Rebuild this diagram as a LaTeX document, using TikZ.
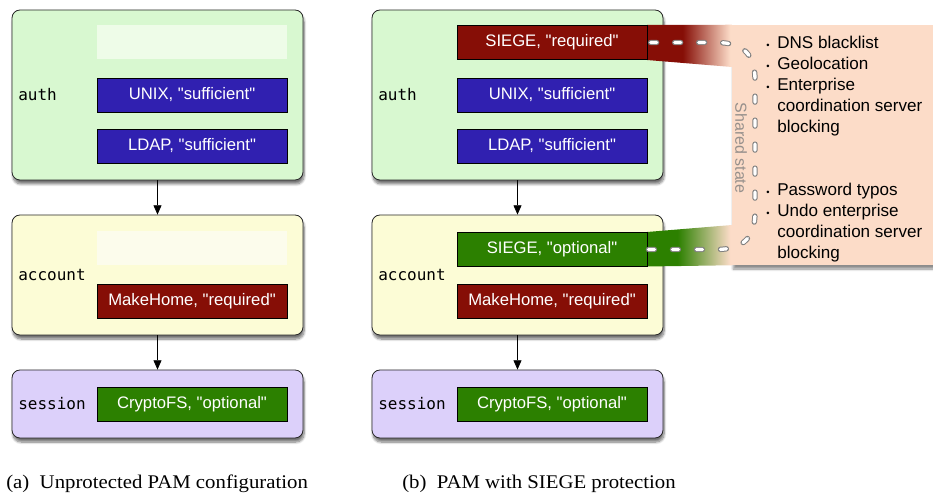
\documentclass[tikz,border=0pt]{standalone}
\usepackage{fontspec}
\setmainfont{Liberation Serif}
\setsansfont{Liberation Sans}[Ligatures=TeXOff]
\setmonofont{DejaVu Sans Mono}
\usepackage{xcolor}
\usetikzlibrary{arrows.meta,shadows.blur}

\definecolor{authbg}{RGB}{216,248,208}
\definecolor{authgap}{RGB}{238,252,232}
\definecolor{acctbg}{RGB}{252,252,214}
\definecolor{acctgap}{RGB}{252,252,236}
\definecolor{sessbg}{RGB}{220,208,250}
\definecolor{modblue}{RGB}{48,32,176}
\definecolor{modred}{RGB}{134,14,6}
\definecolor{modgreen}{RGB}{44,128,0}
\definecolor{peach}{RGB}{252,220,200}
\definecolor{edgegray}{RGB}{40,40,40}
\definecolor{stategray}{RGB}{150,144,140}

\pgfdeclarehorizontalshading{redfade}{100bp}{color(0bp)=(modred); color(46bp)=(modred); color(74bp)=(peach); color(100bp)=(peach)}
\pgfdeclarehorizontalshading{greenfade}{100bp}{color(0bp)=(modgreen); color(43bp)=(modgreen); color(74bp)=(peach); color(100bp)=(peach)}

\newcommand{\bul}{\makebox[8.25pt][l]{\fontsize{7}{7}\selectfont\textbullet}}
\newcommand{\bulskip}{\hspace*{8.25pt}}

\tikzset{
  stage/.style={draw=edgegray, line width=0.6pt, rounded corners=6pt, minimum width=218.25pt,
    blur shadow={shadow xshift=0.8pt, shadow yshift=-3pt, shadow blur steps=8, shadow opacity=55}},
  module/.style={draw=black, line width=0.5pt, minimum width=142.5pt, minimum height=25.5pt,
    inner sep=0pt, text=white, font=\sffamily\fontsize{12.5}{12.5}\selectfont},
  blank/.style={minimum width=142.5pt, minimum height=25.5pt, inner sep=0pt},
  stagelabel/.style={anchor=west, inner sep=0pt, font=\ttfamily\fontsize{12}{12}\selectfont},
  flow/.style={-{Triangle[length=7pt,width=6pt]}, line width=0.6pt},
  sharedbox/.style={fill=peach, minimum width=152pt, minimum height=180pt, inner sep=0pt,
    blur shadow={shadow xshift=0.8pt, shadow yshift=-3pt, shadow blur steps=8, shadow opacity=45}},
  sharedout/.style={draw=gray, line width=4pt, line cap=round, dash pattern=on 4.5pt off 13.5pt, dash phase=-2.5pt},
  sharedin/.style={draw=white, line width=2.5pt, line cap=round, dash pattern=on 4.5pt off 13.5pt, dash phase=-2.5pt},
  listtext/.style={anchor=north west, inner sep=0pt, align=left, font=\sffamily\fontsize{12.8}{15.75}\selectfont},
  caption/.style={anchor=base west, inner sep=0pt, xscale=1.075, font=\fontsize{14.5}{14.5}\selectfont}
}

\begin{document}
\begin{tikzpicture}[x=0.75pt,y=-0.75pt]
\useasboundingbox (0,0) rectangle (933,495);

% (a) unprotected
\node[stage, fill=authbg, minimum height=127.5pt] (authA) at (157.5,95) {};
\node[stage, fill=acctbg, minimum height=90pt] (acctA) at (157.5,275) {};
\node[stage, fill=sessbg, minimum height=51pt] (sessA) at (157.5,404) {};
\node[stagelabel] (authAlbl) at (18,95) {auth};
\node[stagelabel] (acctAlbl) at (18,275) {account};
\node[stagelabel] (sessAlbl) at (18,404) {session};
\node[blank, fill=authgap] (gapA1) at (192,42.5) {};
\node[module, fill=modblue] (unixA) at (192,95) {UNIX, "sufficient"};
\node[module, fill=modblue] (ldapA) at (192,146) {LDAP, "sufficient"};
\node[blank, fill=acctgap] (gapA2) at (192,248.5) {};
\node[module, fill=modred] (mkhomeA) at (192,301) {MakeHome, "required"};
\node[module, fill=modgreen] (cryptA) at (192,404) {CryptoFS, "optional"};
\draw[flow] (authA) -- (acctA);
\draw[flow] (acctA) -- (sessA);

% (b) with SIEGE
\node[stage, fill=authbg, minimum height=127.5pt] (authB) at (517.5,95) {};
\node[stage, fill=acctbg, minimum height=90pt] (acctB) at (517.5,275) {};
\node[stage, fill=sessbg, minimum height=51pt] (sessB) at (517.5,404) {};
\node[sharedbox] (shared) at (833.5,145) {};
\node[stagelabel] (authBlbl) at (378,95) {auth};
\node[stagelabel] (acctBlbl) at (378,275) {account};
\node[stagelabel] (sessBlbl) at (378,404) {session};
\coordinate (siegeReqNE) at (647,25);
\coordinate (siegeOptSE) at (647,266.5);
\shade[shading=redfade] (siegeReqNE) -- (shared.north west) -- (shared.west |- 0,67) -- (647,60) -- cycle;
\shade[shading=greenfade] (647,232) -- (shared.west |- 0,225) -- (shared.south west) -- (siegeOptSE) -- cycle;
\node[module, fill=modred] (siegeReq) at (552,42.5) {SIEGE, "required"};
\node[module, fill=modblue] (unixB) at (552,95) {UNIX, "sufficient"};
\node[module, fill=modblue] (ldapB) at (552,146) {LDAP, "sufficient"};
\node[module, fill=modgreen] (siegeOpt) at (552,249.5) {SIEGE, "optional"};
\node[module, fill=modred] (mkhomeB) at (552,301) {MakeHome, "required"};
\node[module, fill=modgreen] (cryptB) at (552,404) {CryptoFS, "optional"};
\draw[flow] (authB) -- (acctB);
\draw[flow] (acctB) -- (sessB);

\draw[sharedout] (siegeReq.east) -- (716,42.5) .. controls (744,42.5) and (755,55) .. (755,80)
  -- (755,212) .. controls (755,237) and (744,249.5) .. (716,249.5) -- (siegeOpt.east);
\draw[sharedin] (siegeReq.east) -- (716,42.5) .. controls (744,42.5) and (755,55) .. (755,80)
  -- (755,212) .. controls (755,237) and (744,249.5) .. (716,249.5) -- (siegeOpt.east);

\node[rotate=-90, text=stategray, inner sep=0pt, font=\sffamily\fontsize{12}{12}\selectfont] (statelbl) at (741,148) {Shared state};
\node[listtext] (reqlist) at (766,36) {\bul DNS blacklist\\ \bul Geolocation\\ \bul Enterprise\\ \bulskip coordination server\\ \bulskip blocking};
\node[listtext] (optlist) at (766,182.5) {\bul Password typos\\ \bul Undo enterprise\\ \bulskip coordination server\\ \bulskip blocking};

\node[caption] (capA) at (6,489) {(a)\enspace Unprotected PAM configuration};
\node[caption] (capB) at (402,489) {(b)\enspace PAM with SIEGE protection};
\end{tikzpicture}
\end{document}
